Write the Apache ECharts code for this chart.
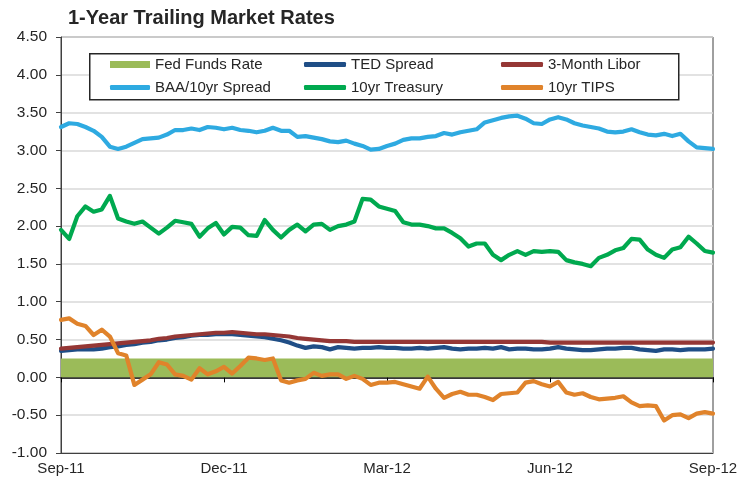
<!DOCTYPE html>
<html>
<head>
<meta charset="utf-8">
<script src="https://cdn.jsdelivr.net/npm/echarts@6/dist/echarts.min.js"></script>
<style>
html,body{margin:0;padding:0;background:#fff;}
#chart{width:748px;height:481px;}
</style>
</head>
<body>
<div id="chart"></div>
<script>
const tickLabels = ['Sep-11', 'Dec-11', 'Mar-12', 'Jun-12', 'Sep-12'];
const pointsPerTick = 20;

const fedFunds = [0.25,0.25,0.25,0.25,0.25,0.25,0.25,0.25,0.25,0.25,
0.25,0.25,0.25,0.25,0.25,0.25,0.25,0.25,0.25,0.25,
0.25,0.25,0.25,0.25,0.25,0.25,0.25,0.25,0.25,0.25,
0.25,0.25,0.25,0.25,0.25,0.25,0.25,0.25,0.25,0.25,
0.25,0.25,0.25,0.25,0.25,0.25,0.25,0.25,0.25,0.25,
0.25,0.25,0.25,0.25,0.25,0.25,0.25,0.25,0.25,0.25,
0.25,0.25,0.25,0.25,0.25,0.25,0.25,0.25,0.25,0.25,
0.25,0.25,0.25,0.25,0.25,0.25,0.25,0.25,0.25,0.25,
0.25];

const tedSpread = [0.35,0.36,0.37,0.37,0.37,0.38,0.40,0.41,0.43,0.44,
0.46,0.47,0.49,0.50,0.52,0.53,0.55,0.56,0.56,0.57,
0.57,0.57,0.56,0.55,0.54,0.53,0.51,0.49,0.46,0.42,
0.39,0.41,0.40,0.37,0.40,0.39,0.38,0.39,0.39,0.40,
0.39,0.39,0.38,0.38,0.39,0.38,0.39,0.40,0.38,0.37,
0.38,0.38,0.39,0.38,0.40,0.37,0.38,0.38,0.37,0.37,
0.38,0.40,0.38,0.37,0.36,0.36,0.37,0.38,0.38,0.39,
0.39,0.37,0.36,0.35,0.37,0.37,0.36,0.37,0.37,0.37,
0.38];

const libor3m = [0.38,0.39,0.40,0.41,0.42,0.43,0.44,0.45,0.46,0.47,
0.48,0.49,0.51,0.52,0.54,0.55,0.56,0.57,0.58,0.59,
0.59,0.60,0.59,0.58,0.57,0.57,0.56,0.55,0.54,0.52,
0.51,0.50,0.49,0.48,0.48,0.48,0.47,0.47,0.47,0.47,
0.47,0.47,0.47,0.47,0.47,0.47,0.47,0.47,0.47,0.47,
0.47,0.47,0.47,0.47,0.47,0.47,0.47,0.47,0.47,0.47,
0.46,0.46,0.46,0.46,0.46,0.46,0.46,0.46,0.46,0.46,
0.46,0.46,0.46,0.46,0.46,0.46,0.46,0.46,0.46,0.46,
0.46];

const baaSpread = [3.31,3.36,3.35,3.31,3.26,3.18,3.05,3.02,3.05,3.10,
3.15,3.16,3.17,3.21,3.27,3.27,3.29,3.27,3.31,3.30,
3.28,3.30,3.27,3.26,3.24,3.26,3.30,3.26,3.26,3.18,
3.19,3.17,3.15,3.12,3.11,3.13,3.09,3.06,3.01,3.02,
3.06,3.09,3.14,3.16,3.16,3.18,3.19,3.23,3.21,3.24,
3.26,3.28,3.37,3.40,3.43,3.45,3.46,3.42,3.36,3.35,
3.41,3.44,3.41,3.36,3.33,3.31,3.29,3.25,3.24,3.25,
3.28,3.24,3.21,3.20,3.22,3.19,3.22,3.12,3.04,3.03,
3.02];

const treasury10 = [1.95,1.83,2.13,2.26,2.19,2.22,2.40,2.10,2.06,2.03,
2.06,1.98,1.90,1.98,2.07,2.05,2.03,1.86,1.97,2.04,
1.89,1.99,1.98,1.88,1.87,2.08,1.95,1.85,1.95,2.02,
1.93,2.02,2.03,1.95,2.00,2.02,2.06,2.36,2.35,2.26,
2.23,2.20,2.05,2.02,2.02,2.00,1.97,1.97,1.91,1.84,
1.73,1.77,1.77,1.62,1.55,1.62,1.67,1.62,1.67,1.66,
1.67,1.66,1.55,1.52,1.50,1.47,1.58,1.62,1.68,1.71,
1.83,1.82,1.69,1.62,1.58,1.69,1.72,1.86,1.77,1.67,
1.65];

const tips10 = [0.76,0.78,0.71,0.68,0.56,0.63,0.54,0.32,0.29,-0.10,
-0.03,0.04,0.20,0.17,0.04,0.02,-0.03,0.12,0.04,0.08,
0.14,0.05,0.15,0.26,0.25,0.23,0.25,-0.04,-0.07,-0.04,
-0.02,0.06,0.02,0.04,0.04,-0.02,0.02,-0.02,-0.10,-0.07,
-0.07,-0.06,-0.09,-0.12,-0.15,0.01,-0.15,-0.27,-0.22,-0.19,
-0.23,-0.23,-0.26,-0.30,-0.22,-0.21,-0.20,-0.07,-0.05,-0.09,
-0.12,-0.06,-0.20,-0.23,-0.21,-0.26,-0.29,-0.28,-0.27,-0.25,
-0.33,-0.38,-0.37,-0.38,-0.57,-0.50,-0.49,-0.54,-0.48,-0.46,
-0.48];

const categories = baaSpread.map((_, i) => String(i));

const FONT = '"Liberation Sans", Arial, sans-serif';
const TEXT = '#262626';

function lineSeries(name, data, color) {
  return {
    name: name, type: 'line', data: data, xAxisIndex: 0,
    showSymbol: false, symbol: 'none',
    lineStyle: { color: color, width: 4.2, cap: 'round', join: 'round' },
    itemStyle: { color: color },
    emphasis: { disabled: true },
    animation: false
  };
}

function legendAt(name, left, top, icon, w, h) {
  return {
    data: [name], left: left, top: top, padding: 0,
    icon: icon, itemWidth: w, itemHeight: h,
    selectedMode: false,
    textStyle: { fontFamily: FONT, fontSize: 15, color: TEXT }
  };
}

const chart = echarts.init(document.getElementById('chart'), null, { renderer: 'canvas' });
chart.setOption({
  animation: false,
  backgroundColor: '#fff',
  title: {
    text: '1-Year Trailing Market Rates', left: 68, top: 8, padding: 0,
    textStyle: { fontFamily: FONT, fontSize: 20, fontWeight: 'bold', color: TEXT }
  },
  grid: { left: 61, right: 35, top: 37, bottom: 28, show: true, borderColor: '#404040', borderWidth: 1 },
  graphic: [{
    type: 'rect', left: 89, top: 53, z: 3,
    shape: { width: 589, height: 46 },
    style: { fill: '#fff', stroke: '#262626', lineWidth: 1.5 }
  }],
  legend: [
    legendAt('Fed Funds Rate', 110, 57, 'rect', 40, 7),
    legendAt('TED Spread', 304, 57, 'roundRect', 42, 5),
    legendAt('3-Month Libor', 501, 57, 'roundRect', 42, 5),
    legendAt('BAA/10yr Spread', 110, 80, 'roundRect', 40, 5),
    legendAt('10yr Treasury', 304, 80, 'roundRect', 42, 5),
    legendAt('10yr TIPS', 501, 80, 'roundRect', 42, 5)
  ],
  xAxis: [{
    type: 'category', data: categories, boundaryGap: false, position: 'bottom',
    axisLine: { onZero: false, lineStyle: { color: '#404040', width: 1 } },
    axisTick: { show: false },
    axisLabel: {
      interval: pointsPerTick - 1, margin: 8,
      fontFamily: FONT, fontSize: 15, color: TEXT,
      formatter: (v, idx) => tickLabels[Math.round(idx / pointsPerTick)]
    },
    splitLine: { show: false }
  }, {
    type: 'category', data: categories, boundaryGap: false, position: 'bottom',
    axisLine: { onZero: true, lineStyle: { color: '#000', width: 1.5 } },
    axisTick: { show: true, interval: pointsPerTick - 1, length: 5, lineStyle: { color: '#000' } },
    axisLabel: { show: false },
    splitLine: { show: false }
  }],
  yAxis: {
    type: 'value', min: -1, max: 4.5, interval: 0.5,
    axisLine: { show: true, lineStyle: { color: '#404040' } },
    axisTick: { show: true, length: 5, lineStyle: { color: '#404040' } },
    axisLabel: { margin: 14, fontFamily: FONT, fontSize: 15.5, color: TEXT, formatter: v => v.toFixed(2) },
    splitLine: { lineStyle: { color: '#d9d9d9', width: 1.5 } }
  },
  series: [
    {
      name: 'Fed Funds Rate', type: 'line', data: fedFunds, showSymbol: false, symbol: 'none',
      lineStyle: { width: 0, color: '#9BBB59' }, itemStyle: { color: '#9BBB59' },
      areaStyle: { color: '#9BBB59', opacity: 1, origin: 0 }, emphasis: { disabled: true }
    },
    lineSeries('TED Spread', tedSpread, '#1F4E86'),
    lineSeries('3-Month Libor', libor3m, '#953735'),
    lineSeries('BAA/10yr Spread', baaSpread, '#2EAAE1'),
    lineSeries('10yr Treasury', treasury10, '#00A94F'),
    lineSeries('10yr TIPS', tips10, '#E0832B')
  ]
});
</script>
</body>
</html>
